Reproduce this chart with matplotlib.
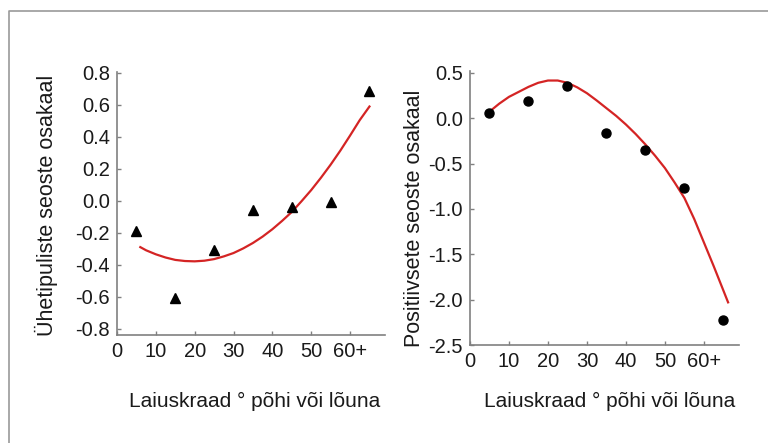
import matplotlib
matplotlib.use("Agg")
import matplotlib.pyplot as plt
from matplotlib.lines import Line2D

plt.rcParams['font.family'] = ['Liberation Sans', 'DejaVu Sans']
plt.rcParams['axes.unicode_minus'] = False

# Latitude bands (degrees north or south)
lat = [5, 15, 25, 35, 45, 55, 65]

# Share of unimodal relationships
unimodal = [-0.19, -0.61, -0.31, -0.056, -0.04, -0.01, 0.69]
# Share of positive relationships
positive = [0.06, 0.19, 0.355, -0.16, -0.355, -0.77, -2.22]

# Fitted trend lines
fit_lat_left = [6, 7.5, 10, 12.5, 15, 17.5, 20, 22.5, 25, 27.5, 30, 32.5,
                35, 37.5, 40, 42.5, 45, 47.5, 50, 52.5, 55, 57.5, 60, 62.5, 65]
fit_left = [-0.29, -0.31, -0.335, -0.355, -0.37, -0.377, -0.379, -0.375,
            -0.365, -0.348, -0.327, -0.298, -0.264, -0.224, -0.178, -0.126,
            -0.07, -0.003, 0.067, 0.144, 0.226, 0.314, 0.408, 0.505, 0.59]
fit_lat_right = [5.5, 7.5, 10, 12.5, 15, 17.5, 20, 22.5, 25, 27.5, 30, 32.5,
                 35, 37.5, 40, 42.5, 45, 47.5, 50, 52.5, 55, 57.5, 60, 62.5,
                 65, 66.2]
fit_right = [0.09, 0.16, 0.235, 0.29, 0.345, 0.39, 0.415, 0.415, 0.39, 0.34,
             0.275, 0.195, 0.11, 0.025, -0.07, -0.175, -0.29, -0.415, -0.55,
             -0.71, -0.88, -1.11, -1.37, -1.63, -1.9, -2.03]

xticks = [0, 10, 20, 30, 40, 50, 60]
xticklabels = ['0', '10', '20', '30', '40', '50', '60+']
yticks_left = [0.8, 0.6, 0.4, 0.2, 0.0, -0.2, -0.4, -0.6, -0.8]
yticks_right = [0.5, 0.0, -0.5, -1.0, -1.5, -2.0, -2.5]

W, H = 768, 443
fig = plt.figure(figsize=(W / 100, H / 100), dpi=100)


def px_axes(x0, x1, ytop, ybot):
    return fig.add_axes([x0 / W, (H - ybot) / H, (x1 - x0) / W, (ybot - ytop) / H])


def style(ax):
    for s in ['top', 'right']:
        ax.spines[s].set_visible(False)
    for s in ['left', 'bottom']:
        ax.spines[s].set_color('#808080')
        ax.spines[s].set_linewidth(1.2)
    ax.tick_params(direction='in', length=3, width=1, color='#808080',
                   labelsize=14.5, labelcolor='#1a1a1a', pad=5)
    ax.set_xticks(xticks)
    ax.set_xticklabels(xticklabels)
    ax.set_xlim(0, 69)


red = '#d42424'

ax1 = px_axes(117, 385, 72, 335)
style(ax1)
ax1.plot(fit_lat_left, fit_left, color=red, lw=1.6, zorder=2,
         solid_joinstyle='round')
ax1.plot(lat, unimodal, linestyle='none', marker='^', color='black',
         markersize=7, zorder=3)
ax1.set_ylim(-0.84, 0.806)
ax1.set_yticks(yticks_left)
ax1.set_yticklabels(['%.1f' % v for v in yticks_left])

ax2 = px_axes(470, 739, 71, 345)
style(ax2)
ax2.plot(fit_lat_right, fit_right, color=red, lw=1.6, zorder=2,
         solid_joinstyle='round')
ax2.plot(lat, positive, linestyle='none', marker='o', color='black',
         markersize=6.5, zorder=3)
ax2.set_ylim(-2.5, 0.52)
ax2.set_yticks(yticks_right)
ax2.set_yticklabels(['%.1f' % v for v in yticks_right])

# Axis titles
fig.text(46.5 / W, (H - 205) / H, 'Ühetipuliste seoste osakaal', rotation=90,
         ha='center', va='center', fontsize=15.5, color='#1a1a1a')
fig.text(414 / W, (H - 218) / H, 'Positiivsete seoste osakaal', rotation=90,
         ha='center', va='center', fontsize=15.5, color='#1a1a1a')
fig.text(255 / W, (H - 401) / H, 'Laiuskraad ° põhi või lõuna',
         ha='center', va='center', fontsize=15, color='#1a1a1a')
fig.text(610 / W, (H - 401) / H, 'Laiuskraad ° põhi või lõuna',
         ha='center', va='center', fontsize=15, color='#1a1a1a')

# Outer frame (top and left edges)
fig.add_artist(Line2D([9 / W, 9 / W, 1.0], [0.0, (H - 11) / H, (H - 11) / H],
                      transform=fig.transFigure, color='#9a9a9a', lw=1.2))

fig.savefig('out.png', dpi=100)
